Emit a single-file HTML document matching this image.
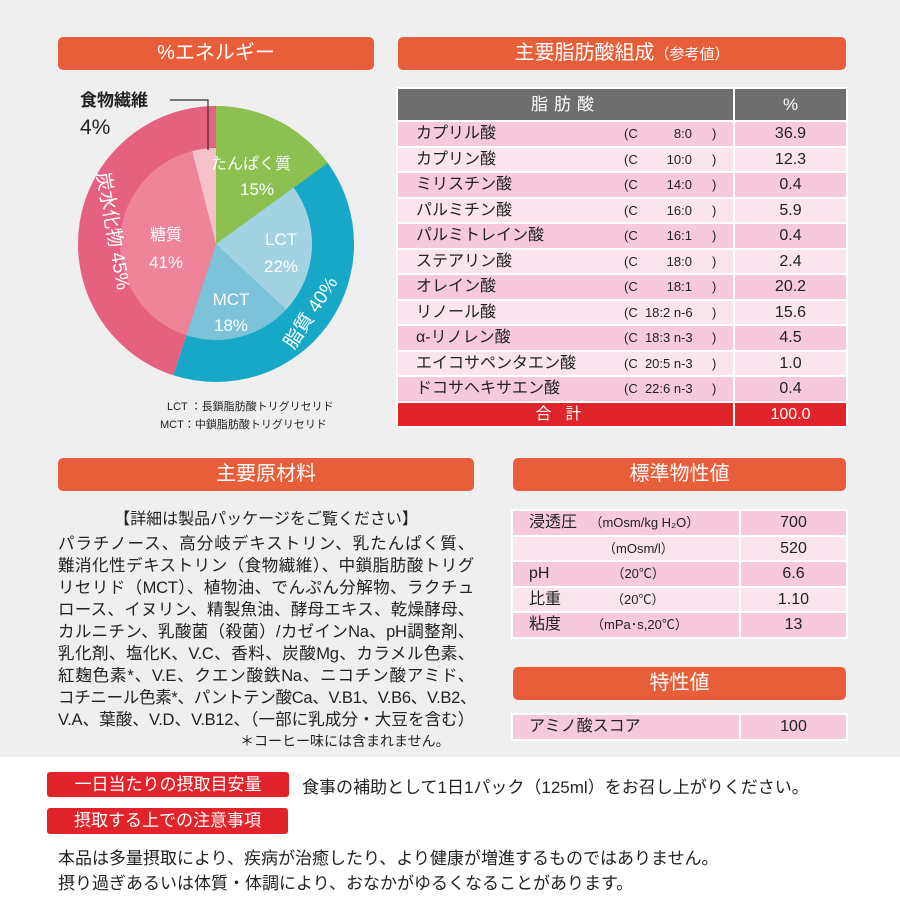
<!DOCTYPE html>
<html><head><meta charset="utf-8">
<style>
*{margin:0;padding:0;box-sizing:border-box}
body{width:900px;height:900px;position:relative;background:#efefef;font-family:"Liberation Sans","Noto Sans CJK JP",sans-serif;color:#222;overflow:hidden}
.hdr{position:absolute;height:33px;background:#e85d3a;border-radius:5px;color:#fff;font-size:20px;line-height:33px;text-align:center}
.abs{position:absolute}
table{border-collapse:separate;border-spacing:2px;background:#fff;position:absolute}
td{padding:0;font-size:16px;white-space:nowrap}
.a{background:#f6c9dc}.b{background:#fbe4ed}
.fa td{height:23.5px;line-height:23.5px}
.mat div{position:absolute;left:58px;width:416px;font-size:16.5px;text-align:justify;text-align-last:justify;white-space:nowrap;letter-spacing:-0.3px}
.red{position:absolute;background:#e1242a;color:#fff;font-size:17px;border-radius:3px;text-align:center}
</style></head><body>
<div class="hdr" style="left:58px;top:37px;width:316px">%エネルギー</div>
<div class="hdr" style="left:398px;top:37px;width:448px">主要脂肪酸組成<span style="font-size:15px">（参考値）</span></div>

<svg class="abs" style="left:0;top:0" width="380" height="440">
<g id="pie"></g>
<polyline points="170,100 208,100 208,150" fill="none" stroke="#333" stroke-width="1.2"/>
<text x="80" y="106" font-size="17" font-weight="bold" fill="#222">食物繊維</text>
<text x="80" y="134" font-size="21" fill="#222">4%</text>
<g fill="#fff" text-anchor="middle">
<text x="251" y="169" font-size="16">たんぱく質</text>
<text x="257" y="195" font-size="17">15%</text>
<text x="281" y="245" font-size="17">LCT</text>
<text x="281" y="272" font-size="17">22%</text>
<text x="231" y="305" font-size="17">MCT</text>
<text x="231" y="331" font-size="17">18%</text>
<text x="166" y="240" font-size="16">糖質</text>
<text x="166" y="268" font-size="17">41%</text>
<text transform="translate(316,316) rotate(-57)" font-size="19">脂質 40%</text>
<text transform="translate(107,232) rotate(80)" font-size="19">炭水化物 45%</text>
</g>
<text x="167" y="410" font-size="11" fill="#222">LCT ：長鎖脂肪酸トリグリセリド</text>
<text x="160" y="428" font-size="11" fill="#222">MCT：中鎖脂肪酸トリグリセリド</text>
</svg>

<table class="fa" style="left:396px;top:87px;width:452px">
<tr><td style="background:#6e6e6e;color:#fff;height:31px;font-size:17px;text-align:center;width:335px;letter-spacing:6px">脂肪酸</td><td style="background:#6e6e6e;color:#fff;text-align:center;font-size:17px">%</td></tr>
<tbody id="fabody"></tbody>
<tr><td style="background:#e1242a;color:#fff;text-align:center;letter-spacing:14px">合計</td><td style="background:#e1242a;color:#fff;text-align:center">100.0</td></tr>
</table>

<div class="hdr" style="left:58px;top:458px;width:416px">主要原材料</div>
<div class="abs" style="left:58px;top:505px;width:416px;text-align:center;font-size:16px">【詳細は製品パッケージをご覧ください】</div>
<div class="mat">
<div style="top:530px">パラチノース、高分岐デキストリン、乳たんぱく質、</div>
<div style="top:552px">難消化性デキストリン（食物繊維）、中鎖脂肪酸トリグ</div>
<div style="top:574px">リセリド（MCT）、植物油、でんぷん分解物、ラクチュ</div>
<div style="top:596px">ロース、イヌリン、精製魚油、酵母エキス、乾燥酵母、</div>
<div style="top:618px">カルニチン、乳酸菌（殺菌）/カゼインNa、pH調整剤、</div>
<div style="top:640px">乳化剤、塩化K、V.C、香料、炭酸Mg、カラメル色素、</div>
<div style="top:662px">紅麹色素*、V.E、クエン酸鉄Na、ニコチン酸アミド、</div>
<div style="top:684px">コチニール色素*、パントテン酸Ca、V.B1、V.B6、V.B2、</div>
<div style="top:706px">V.A、葉酸、V.D、V.B12、（一部に乳成分・大豆を含む）</div>
</div>
<div class="abs" style="left:240px;top:731px;font-size:14px">＊コーヒー味には含まれません。</div>

<div class="hdr" style="left:513px;top:458px;width:333px">標準物性値</div>
<table class="fa" style="left:511px;top:509px;width:337px">
<tr><td class="a" style="width:226px;padding-left:16px">浸透圧 <span style="font-size:13px;padding-left:8px">（mOsm/kg H₂O）</span></td><td class="a" style="text-align:center">700</td></tr>
<tr><td class="b" style="padding-left:90px;font-size:13px">（mOsm/l）</td><td class="b" style="text-align:center">520</td></tr>
<tr><td class="a" style="padding-left:16px">pH<span style="font-size:13px;padding-left:62px">（20℃）</span></td><td class="a" style="text-align:center">6.6</td></tr>
<tr><td class="b" style="padding-left:16px">比重<span style="font-size:13px;padding-left:50px">（20℃）</span></td><td class="b" style="text-align:center">1.10</td></tr>
<tr><td class="a" style="padding-left:16px">粘度<span style="font-size:13px;padding-left:30px">（mPa･s,20℃）</span></td><td class="a" style="text-align:center">13</td></tr>
</table>
<div class="hdr" style="left:513px;top:667px;width:333px">特性値</div>
<table class="fa" style="left:511px;top:713px;width:337px">
<tr><td class="a" style="width:226px;padding-left:16px">アミノ酸スコア</td><td class="a" style="text-align:center">100</td></tr>
</table>

<div class="abs" style="left:0;top:757px;width:900px;height:143px;background:#fff"></div>
<div class="red" style="left:47px;top:772px;width:242px;height:25px;line-height:25px">一日当たりの摂取目安量</div>
<div class="abs" style="left:302px;top:773px;font-size:17px">食事の補助として1日1パック（125ml）をお召し上がりください。</div>
<div class="red" style="left:47px;top:808px;width:241px;height:26px;line-height:26px">摂取する上での注意事項</div>
<div class="abs" style="left:58px;top:844px;font-size:17px">本品は多量摂取により、疾病が治癒したり、より健康が増進するものではありません。</div>
<div class="abs" style="left:58px;top:869px;font-size:17px">摂り過ぎあるいは体質・体調により、おなかがゆるくなることがあります。</div>

<script>
const outerLabels=["たんぱく質","脂質","炭水化物"];
const outerValues=[15,40,45];
const outerColors=["#8cc152","#16a8c6","#e6607f"];
const innerLabels=["たんぱく質","LCT","MCT","糖質","食物繊維"];
const innerValues=[15,22,18,41,4];
const innerColors=["#8cc152","#a3d3e3","#7cc3da","#ee8399","#f5c2cc"];
const faNames=["カプリル酸","カプリン酸","ミリスチン酸","パルミチン酸","パルミトレイン酸","ステアリン酸","オレイン酸","リノール酸","α-リノレン酸","エイコサペンタエン酸","ドコサヘキサエン酸"];
const faFormula=["8:0　","10:0　","14:0　","16:0　","16:1　","18:0　","18:1　","18:2 n-6","18:3 n-3","20:5 n-3","22:6 n-3"];
const faValues=["36.9","12.3","0.4","5.9","0.4","2.4","20.2","15.6","4.5","1.0","0.4"];

const cx=216,cy=244,R=138,r=96;
function pt(p,rad){const a=p/100*2*Math.PI;return [cx+rad*Math.sin(a),cy-rad*Math.cos(a)];}
function wedge(p0,p1,rad,color,name){
  const s=pt(p0,rad),e=pt(p1,rad),large=(p1-p0)>50?1:0;
  const el=document.createElementNS("http://www.w3.org/2000/svg","path");
  el.setAttribute("d",`M${cx},${cy}L${s[0]},${s[1]}A${rad},${rad} 0 ${large} 1 ${e[0]},${e[1]}Z`);
  el.setAttribute("fill",color);
  
  
  document.getElementById("pie").appendChild(el);
}
let acc=0;
outerValues.forEach((v,i)=>{wedge(acc,acc+v,R,outerColors[i],"outer-slice-"+i);acc+=v;});
acc=0;
innerValues.forEach((v,i)=>{wedge(acc,acc+v,i===0?R:r,innerColors[i],"inner-slice-"+i);acc+=v;});

const body=document.getElementById("fabody");
faNames.forEach((n,i)=>{
  const tr=document.createElement("tr");
  
  
  const c=i%2===0?"a":"b";
  tr.innerHTML=`<td class="${c}" style="padding-left:18px;position:relative">${n}<span style="position:absolute;left:226px;font-size:13px">(C&nbsp;&nbsp;${faFormula[i].padStart(8,'\u2007')}<span style="position:absolute;left:88px">)</span></span></td><td class="${c}" style="text-align:center">${faValues[i]}</td>`;
  body.appendChild(tr);
});
</script>
</body></html>
